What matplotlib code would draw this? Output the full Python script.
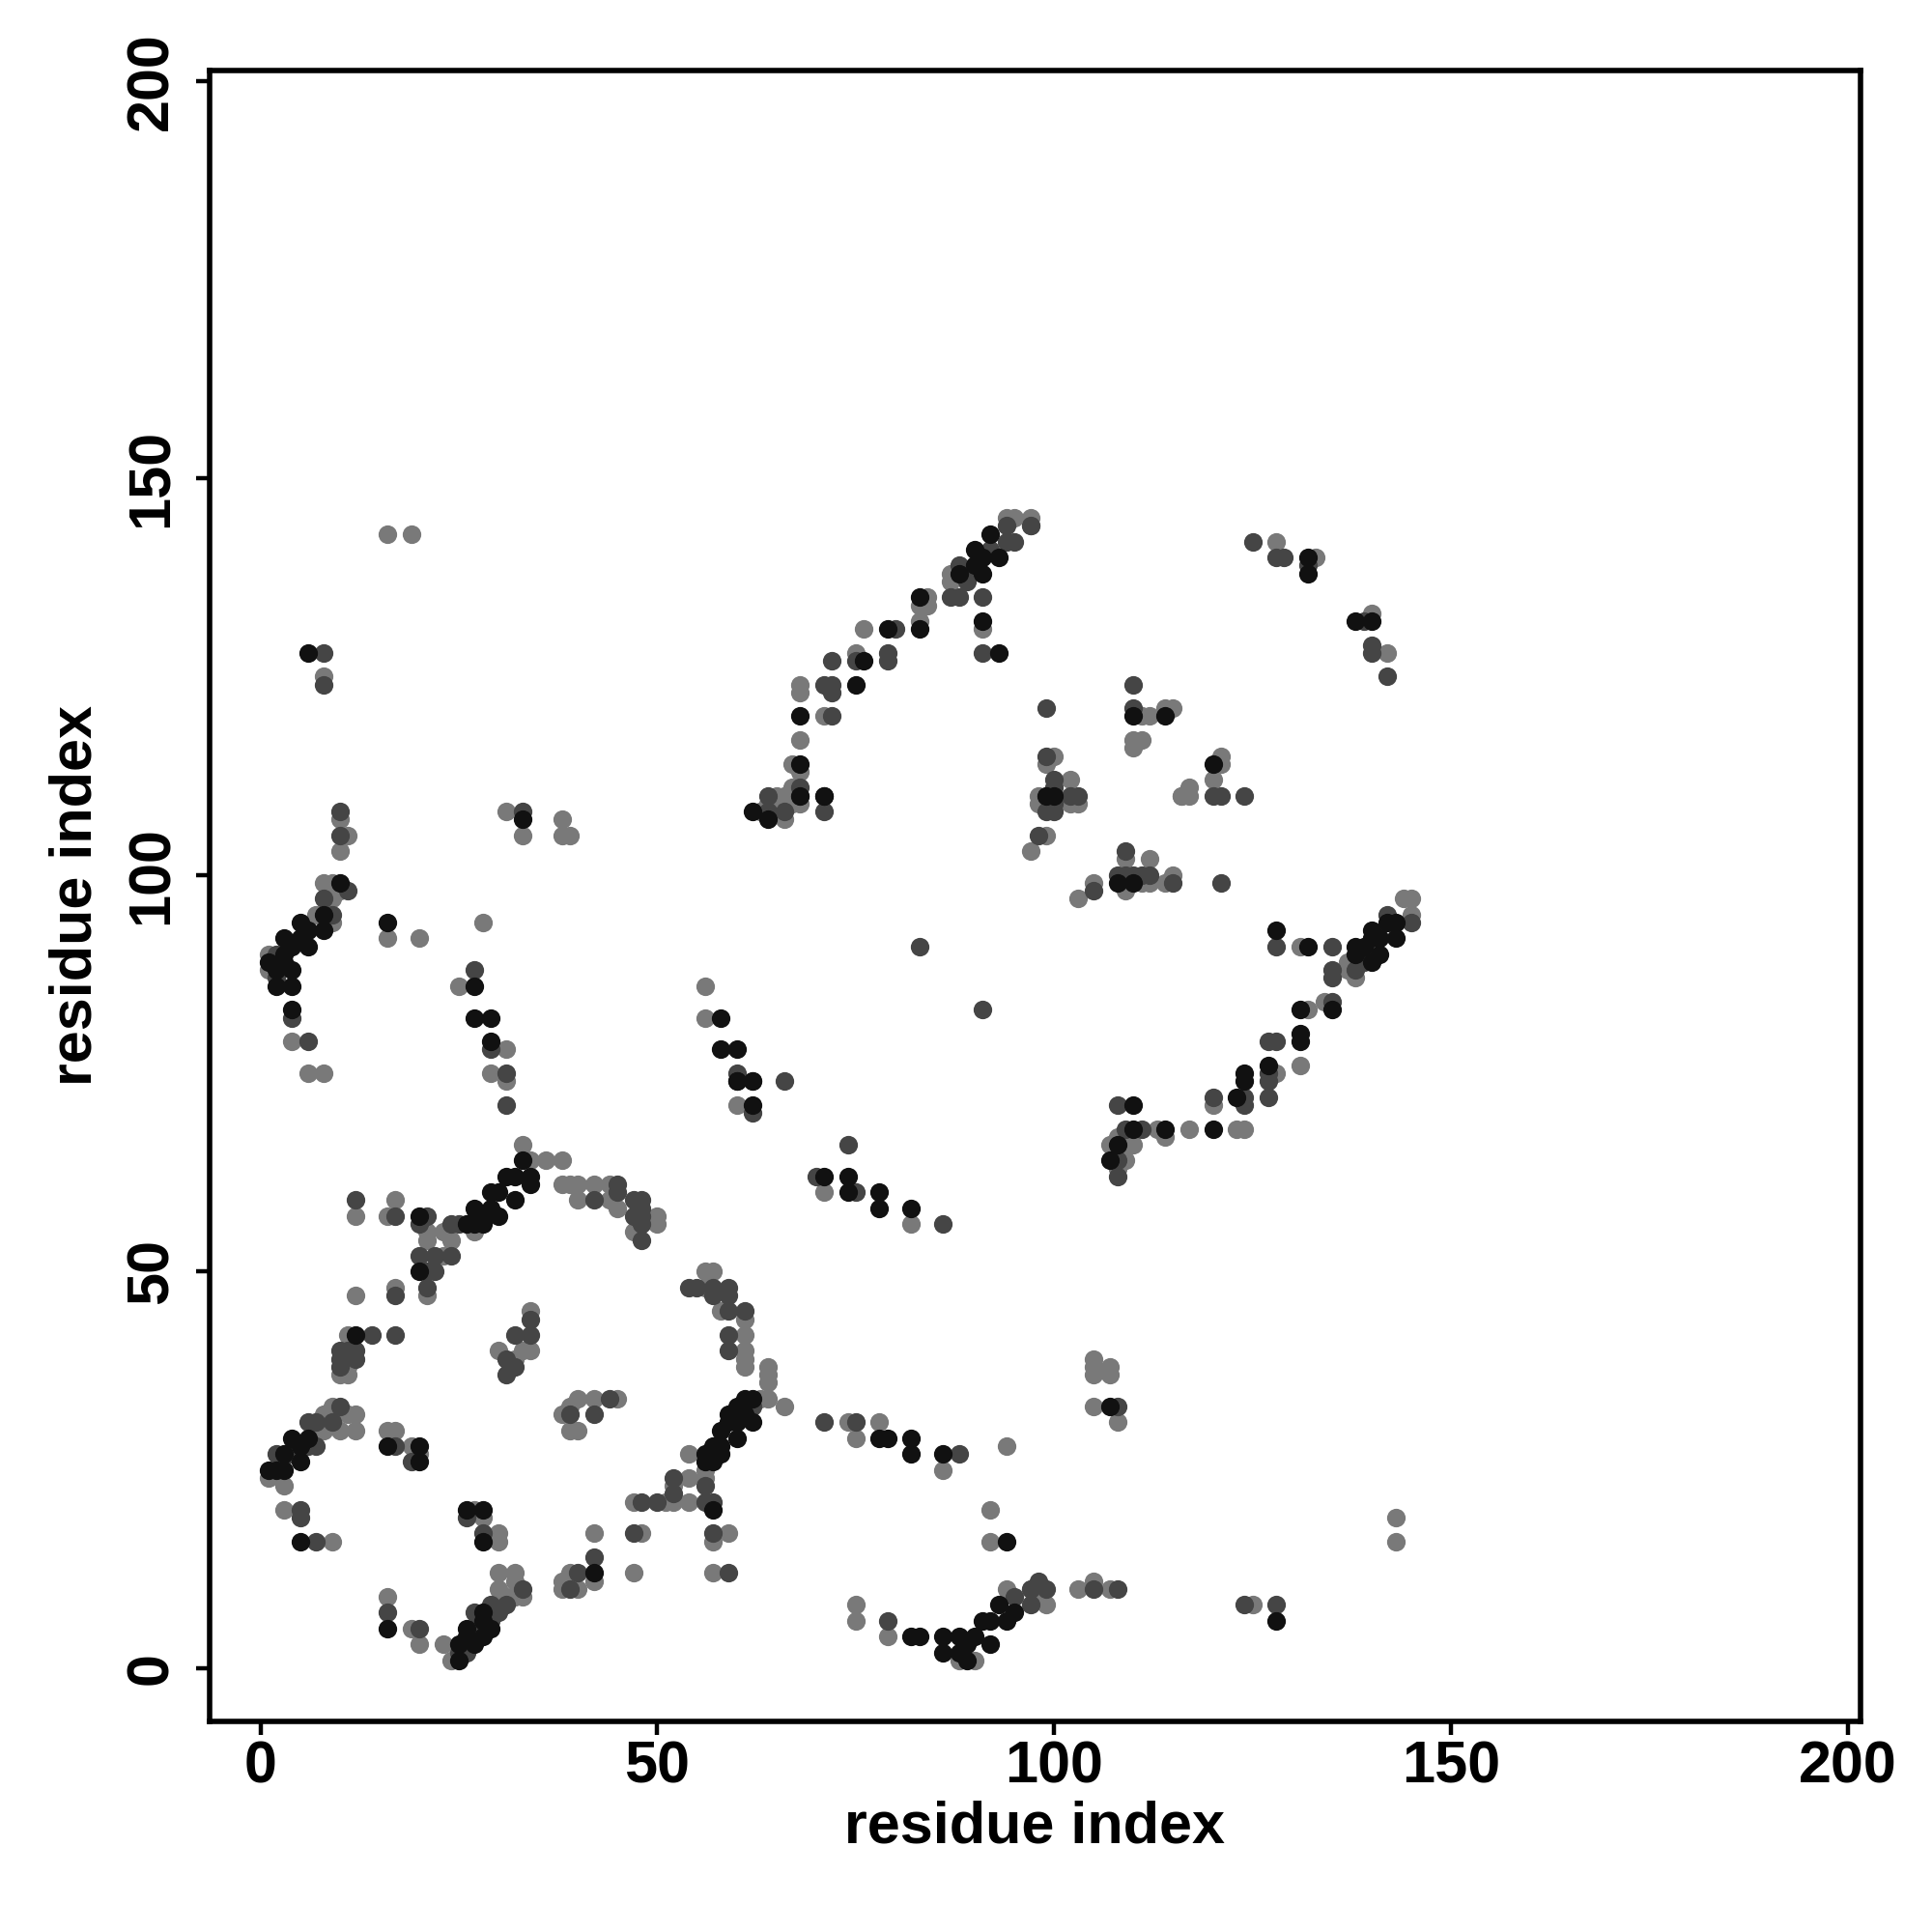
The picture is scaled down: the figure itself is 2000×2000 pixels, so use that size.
import matplotlib
matplotlib.use("Agg")
import matplotlib.pyplot as plt

# contact pairs (residue i, residue j), grouped by shade of the dot
black_pts = [
    (1, 25), (2, 25), (3, 25), (3, 27), (4, 29), (5, 26), (5, 28), (6, 29), (5, 16), (16, 28),
    (20, 28), (20, 26), (16, 5), (25, 1), (25, 3), (26, 4), (26, 5), (27, 3), (28, 4), (28, 6),
    (28, 7), (29, 5), (26, 20), (28, 20), (28, 16), (42, 12),
    (57, 20), (56, 26), (56, 27), (57, 26), (57, 28), (58, 27), (58, 28), (58, 30), (59, 31), (59, 32),
    (60, 29), (60, 31), (60, 33), (61, 32), (61, 34), (62, 31), (62, 34), (78, 29), (79, 29), (82, 29),
    (82, 27), (86, 27), (94, 16), (82, 4), (83, 4), (86, 4), (86, 2), (88, 4), (88, 2), (89, 1),
    (89, 3), (90, 4), (91, 6), (92, 3), (92, 6), (93, 8), (94, 6), (95, 7),
    (107, 33), (128, 6),
    (33, 64), (34, 62), (34, 61), (32, 62), (31, 62), (32, 59), (30, 60), (29, 60), (30, 57), (29, 58),
    (28, 57), (27, 58), (27, 56), (28, 56), (26, 56), (20, 57), (20, 50), (12, 42),
    (60, 74), (62, 74), (62, 71), (71, 62), (74, 62), (74, 60), (78, 60), (78, 58), (82, 58),
    (110, 71), (123, 72), (124, 74), (110, 68), (114, 68), (120, 68), (108, 66), (107, 64),
    (10, 99), (8, 95), (5, 94), (6, 93), (8, 93), (5, 92), (6, 91), (3, 92), (4, 91), (3, 90),
    (1, 89), (3, 89), (2, 88), (4, 88), (2, 86), (4, 86), (4, 83), (16, 94), (27, 86), (27, 82),
    (29, 82), (29, 79), (33, 107),
    (62, 108), (64, 107), (68, 110), (71, 110), (58, 82), (58, 78), (60, 78), (60, 74),
    (99, 110), (108, 99), (110, 99), (128, 93), (132, 91), (138, 91), (138, 90), (140, 93), (141, 92),
    (143, 92), (143, 94), (142, 94), (141, 90), (140, 89), (139, 91), (140, 92), (131, 83), (135, 83),
    (131, 80), (131, 79), (124, 75), (127, 76),
    (6, 128),
    (92, 143), (90, 141), (91, 140), (93, 140), (88, 138), (90, 139), (91, 138), (83, 135), (91, 132),
    (93, 128), (83, 131), (79, 131), (76, 127), (75, 124), (68, 120), (68, 114), (71, 110),
    (132, 140), (132, 138), (138, 132), (140, 132), (110, 120), (114, 120), (120, 114), (100, 110),
]

dark_pts = [
    (2, 27), (6, 31), (6, 28), (7, 31), (7, 28), (4, 27), (9, 31), (10, 33), (5, 20), (5, 19),
    (7, 16), (17, 28), (19, 26), (16, 7), (20, 5), (25, 2), (26, 2), (27, 5), (27, 7), (29, 6),
    (29, 8), (30, 7), (31, 8), (33, 10), (39, 10), (40, 12), (42, 14), (48, 21), (47, 17), (44, 34),
    (42, 32), (39, 32), (31, 37), (26, 19), (28, 17),
    (50, 21), (52, 24), (52, 22), (56, 21), (57, 21), (56, 23), (57, 17), (59, 12), (62, 33), (71, 31),
    (75, 31), (88, 27), (79, 6), (95, 9), (98, 11),
    (108, 33), (97, 10), (99, 10), (97, 8), (105, 10), (108, 10), (124, 8), (128, 8),
    (31, 71), (12, 59), (17, 57), (21, 57), (20, 56), (24, 56), (25, 56), (20, 52), (22, 52), (24, 52),
    (21, 50), (22, 50), (21, 48), (17, 47), (14, 42), (17, 42), (10, 40), (11, 40), (12, 40), (10, 39),
    (10, 38), (12, 39), (31, 39), (32, 42), (32, 38), (34, 42), (34, 44), (45, 61), (42, 59), (45, 60),
    (47, 59), (47, 57), (48, 58), (48, 56), (48, 54),
    (66, 74), (62, 70), (74, 66), (70, 62), (75, 60), (86, 56), (48, 59), (48, 57), (54, 48), (55, 48),
    (57, 48), (57, 47), (59, 48), (59, 47), (59, 45), (61, 45), (59, 42), (59, 40),
    (108, 71), (120, 72), (124, 72), (124, 71), (127, 72), (127, 74), (109, 68), (111, 68), (108, 64),
    (108, 62),
    (10, 108), (10, 105), (11, 98), (8, 97), (9, 95), (2, 90), (2, 87), (4, 82), (6, 79), (27, 88),
    (29, 78), (31, 75), (33, 108),
    (64, 108), (66, 108), (71, 108), (83, 91), (91, 83), (60, 75), (62, 74), (98, 105),
    (99, 108), (100, 109), (100, 108), (109, 103), (105, 98), (108, 100), (109, 100), (110, 100),
    (111, 100), (112, 100), (115, 99), (121, 99), (128, 91), (135, 91), (142, 95), (145, 94), (139, 89),
    (138, 88), (135, 88), (135, 87), (135, 84), (127, 79), (128, 79), (127, 75), (120, 110), (121, 110),
    (124, 110),
    (8, 128), (8, 124),
    (94, 144), (92, 141), (95, 142), (94, 142), (89, 138), (89, 137), (88, 139), (87, 135), (88, 135),
    (91, 135), (91, 128), (80, 131), (75, 127), (79, 128), (79, 127), (72, 127), (71, 124), (72, 124),
    (72, 123), (72, 120), (68, 111), (68, 110), (64, 110),
    (97, 144), (125, 142), (128, 140), (129, 140), (132, 139), (139, 132), (140, 129), (140, 128),
    (142, 125), (110, 124), (110, 121), (99, 121), (99, 115), (100, 112), (100, 111), (99, 110),
    (102, 110), (103, 110),
]

grey_pts = [
    (8, 32), (8, 30), (9, 33), (10, 30), (11, 32), (12, 32), (12, 30), (1, 24), (3, 23), (7, 30),
    (3, 20), (9, 16), (16, 30), (17, 30), (19, 28), (20, 27), (16, 9), (19, 5), (20, 3), (23, 3),
    (24, 1), (30, 8), (30, 10), (30, 12), (31, 9), (32, 9), (32, 12), (33, 9), (32, 11), (38, 11),
    (39, 12), (40, 10), (38, 10), (42, 17), (42, 11), (47, 21), (48, 17), (47, 12), (38, 32), (39, 33),
    (40, 34), (42, 34), (45, 34), (39, 30), (40, 30), (10, 37), (11, 37), (27, 20), (28, 19), (30, 17),
    (30, 16),
    (51, 21), (52, 21), (52, 23), (54, 21), (54, 24), (54, 27), (56, 24), (56, 25), (59, 17), (57, 16),
    (57, 12), (63, 34), (64, 34), (64, 36), (64, 37), (66, 33), (74, 31), (78, 31), (75, 29), (86, 25),
    (94, 28), (92, 20), (92, 16), (75, 8), (75, 6), (79, 4), (88, 1), (90, 1), (94, 10), (97, 10),
    (98, 9),
    (105, 33), (108, 31), (105, 37), (107, 37), (143, 19), (143, 16), (99, 8), (103, 10), (105, 11),
    (107, 10), (125, 8),
    (33, 66), (34, 64), (36, 64), (38, 64), (27, 55), (38, 61), (39, 61), (40, 61), (42, 61), (44, 61),
    (40, 59), (44, 59), (45, 58), (47, 55), (12, 57), (17, 59), (16, 57), (21, 55), (21, 54), (23, 55),
    (24, 54), (23, 52), (21, 47), (12, 47), (17, 48), (11, 42), (11, 38), (30, 40), (33, 40), (34, 45),
    (34, 40), (32, 39),
    (60, 71), (71, 60), (82, 56), (48, 56), (50, 57), (50, 56), (56, 50), (57, 50), (56, 48), (58, 45),
    (61, 44), (61, 42), (61, 40), (61, 39), (61, 38), (64, 38),
    (120, 71), (113, 68), (114, 67), (117, 68), (123, 68), (124, 68), (107, 66), (109, 66), (110, 66),
    (109, 64), (108, 63), (108, 67), (105, 39), (105, 38), (107, 38),
    (10, 107), (11, 105), (10, 103), (8, 99), (9, 99), (10, 98), (9, 97), (7, 95), (9, 94), (1, 90),
    (1, 88), (4, 79), (6, 75), (8, 75), (16, 92), (20, 92), (28, 94), (25, 86), (31, 78), (29, 75),
    (31, 74), (31, 108), (33, 105), (38, 107), (38, 105), (39, 105),
    (63, 108), (64, 109), (65, 110), (66, 107), (67, 109), (68, 109), (56, 86), (56, 82), (97, 103),
    (98, 109), (99, 105), (102, 109), (103, 109), (116, 110), (117, 110), (109, 102), (112, 102),
    (105, 99), (103, 97), (109, 98), (111, 99), (112, 99), (114, 99), (115, 100), (131, 91), (144, 97),
    (145, 97), (145, 95), (138, 87), (137, 88), (137, 89), (132, 83), (134, 84), (131, 76), (128, 75),
    (16, 143), (19, 143), (8, 125),
    (94, 145), (95, 145), (97, 145), (97, 144), (87, 138), (87, 137), (84, 135), (84, 134), (83, 134),
    (91, 131), (83, 132), (76, 131), (75, 128), (68, 124), (68, 123), (71, 120), (68, 117), (67, 114),
    (68, 113), (67, 111), (66, 110),
    (128, 142), (133, 140), (140, 133), (142, 128), (111, 120), (112, 120), (114, 121), (115, 121),
    (110, 117), (111, 117), (110, 116), (100, 115), (99, 114), (102, 112), (98, 110), (117, 111),
    (116, 110), (121, 115), (121, 114), (120, 112),
]

ticks = [0, 50, 100, 150, 200]

plt.rcParams['font.family'] = ['Liberation Sans', 'DejaVu Sans']
plt.rcParams['font.weight'] = 'bold'

fig = plt.figure(figsize=(10, 10), dpi=200)
ax = fig.add_axes([0.1085, 0.109, 0.8545, 0.8545])

for pts, col in [(grey_pts, '#797979'), (dark_pts, '#454545'), (black_pts, '#111111')]:
    xs = [p[0] for p in pts]
    ys = [p[1] for p in pts]
    ax.scatter(xs, ys, s=48, c=col, linewidths=0, zorder=3)

ax.set_xlim(-6.4, 201.6)
ax.set_ylim(-6.7, 201.4)
ax.set_xticks(ticks)
ax.set_yticks(ticks)
ax.set_xticklabels([str(t) for t in ticks], fontsize=22, fontweight='bold')
ax.set_yticklabels([str(t) for t in ticks], fontsize=22, fontweight='bold',
                   rotation=90, va='center')
ax.tick_params(axis='both', direction='out', length=5, width=1.6, color='black')
ax.tick_params(axis='x', pad=2)
ax.tick_params(axis='y', pad=6)
for sp in ax.spines.values():
    sp.set_linewidth(2.0)

ax.set_xlabel('residue index', fontsize=22, fontweight='bold', va='center')
ax.xaxis.set_label_coords(0.5, -0.0644)
ax.set_ylabel('residue index', fontsize=22, fontweight='bold', va='center')
ax.yaxis.set_label_coords(-0.0807, 0.5)

fig.savefig('out.png', dpi=200, facecolor='white')
